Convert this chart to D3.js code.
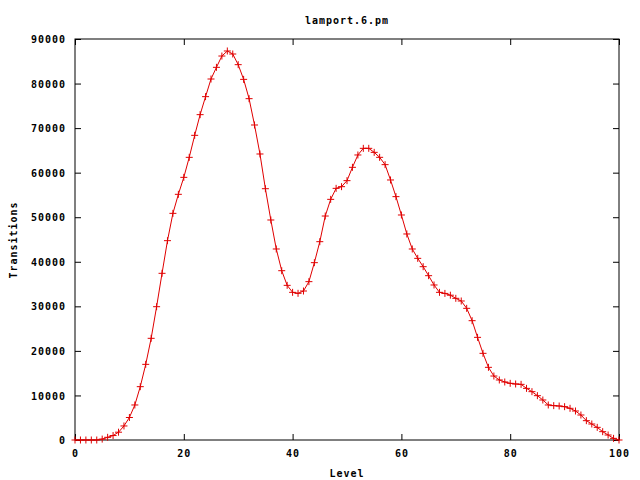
<!DOCTYPE html>
<html>
<head>
<meta charset="utf-8">
<script src="https://cdn.jsdelivr.net/npm/d3@7"></script>
<style>
  html, body { margin: 0; padding: 0; background: #fff; }
  svg { display: block; }
  text { font-family: "DejaVu Sans Mono", "Liberation Mono", monospace; font-weight: bold; font-size: 10px; letter-spacing: 1px; fill: #000; }
</style>
</head>
<body>
<svg id="chart" width="640" height="480"></svg>
<script>
const title = "lamport.6.pm";
const xLabel = "Level";
const yLabel = "Transitions";
const levels = [0,1,2,3,4,5,6,7,8,9,10,11,12,13,14,15,16,17,18,19,20,21,22,23,24,25,26,27,28,29,30,31,32,33,34,35,36,37,38,39,40,41,42,43,44,45,46,47,48,49,50,51,52,53,54,55,56,57,58,59,60,61,62,63,64,65,66,67,68,69,70,71,72,73,74,75,76,77,78,79,80,81,82,83,84,85,86,87,88,89,90,91,92,93,94,95,96,97,98,99,100];
const transitions = [0,0,0,0,0,200,600,1000,1750,3150,5050,7860,11970,16980,22820,29920,37410,44740,50870,55140,58950,63440,68380,73020,77060,81020,83640,86180,87310,86630,84240,80940,76610,70700,64190,56400,49380,42870,38000,34710,33140,32920,33440,35540,39800,44510,50270,54010,56480,56860,58210,61200,63970,65460,65460,64560,63440,61800,58360,54620,50500,46240,42870,40770,38900,36880,34790,33140,32900,32500,31800,31200,29550,26780,23040,19450,16310,14360,13470,13020,12720,12570,12490,11590,10850,9950,8980,7860,7710,7630,7480,7110,6510,5610,4340,3590,2840,1870,1120,370,0];
const xTicks = [0,20,40,60,80,100];
const yTicks = [0,10000,20000,30000,40000,50000,60000,70000,80000,90000];

const svg = d3.select("#chart");
const L = 75, R = 619, T = 39, B = 440;
const x = d3.scaleLinear().domain([0,100]).range([L,R]);
const y = d3.scaleLinear().domain([0,90000]).range([B,T]);
const tick = 6;

svg.append("rect").attr("width",640).attr("height",480).attr("fill","#fff");

// axes with inward ticks (mirrored)
const gl = svg.append("g").attr("transform",`translate(${L},0)`)
  .call(d3.axisLeft(y).tickValues(yTicks).tickFormat(d3.format("d")).tickSizeInner(-tick).tickSizeOuter(0).tickPadding(9));
const gr = svg.append("g").attr("transform",`translate(${R},0)`)
  .call(d3.axisRight(y).tickValues(yTicks).tickFormat("").tickSizeInner(-tick).tickSizeOuter(0));
const gb = svg.append("g").attr("transform",`translate(0,${B})`)
  .call(d3.axisBottom(x).tickValues(xTicks).tickFormat(d3.format("d")).tickSizeInner(-tick).tickSizeOuter(0).tickPadding(10));
const gt = svg.append("g").attr("transform",`translate(0,${T})`)
  .call(d3.axisTop(x).tickValues(xTicks).tickFormat("").tickSizeInner(-tick).tickSizeOuter(0));
[gl,gr,gb,gt].forEach(g => {
  g.select(".domain").remove();
  g.selectAll("line").attr("stroke","#000").attr("stroke-width",1);
  g.selectAll("text").attr("font-family",null).attr("font-size",null).style("fill","#000");
});
gl.selectAll("text").attr("dy","0.36em");

svg.append("rect").attr("x",L).attr("y",T).attr("width",R-L).attr("height",B-T)
  .attr("fill","none").attr("stroke","#000").attr("stroke-width",1);

// line
const data = levels.map((l,i) => ({l, v: transitions[i]}));
svg.append("path").datum(data)
  .attr("fill","none").attr("stroke","#e00000").attr("stroke-width",1)
  .attr("d", d3.line().x(d => x(d.l)).y(d => y(d.v)));

// plus markers
svg.append("g").selectAll("path").data(data).enter().append("path")
  .attr("transform", d => `translate(${x(d.l)},${y(d.v)})`)
  .attr("d","M-3.5,0H3.5M0,-3.5V3.5")
  .attr("stroke","#e00000").attr("stroke-width",1).attr("fill","none");

// titles
svg.append("text").attr("x",(L+R)/2).attr("y",24).attr("text-anchor","middle").text(title);
svg.append("text").attr("x",(L+R)/2).attr("y",477).attr("text-anchor","middle").text(xLabel);
svg.append("text").attr("transform",`translate(17,240) rotate(-90)`).attr("text-anchor","middle").text(yLabel);
</script>
</body>
</html>
